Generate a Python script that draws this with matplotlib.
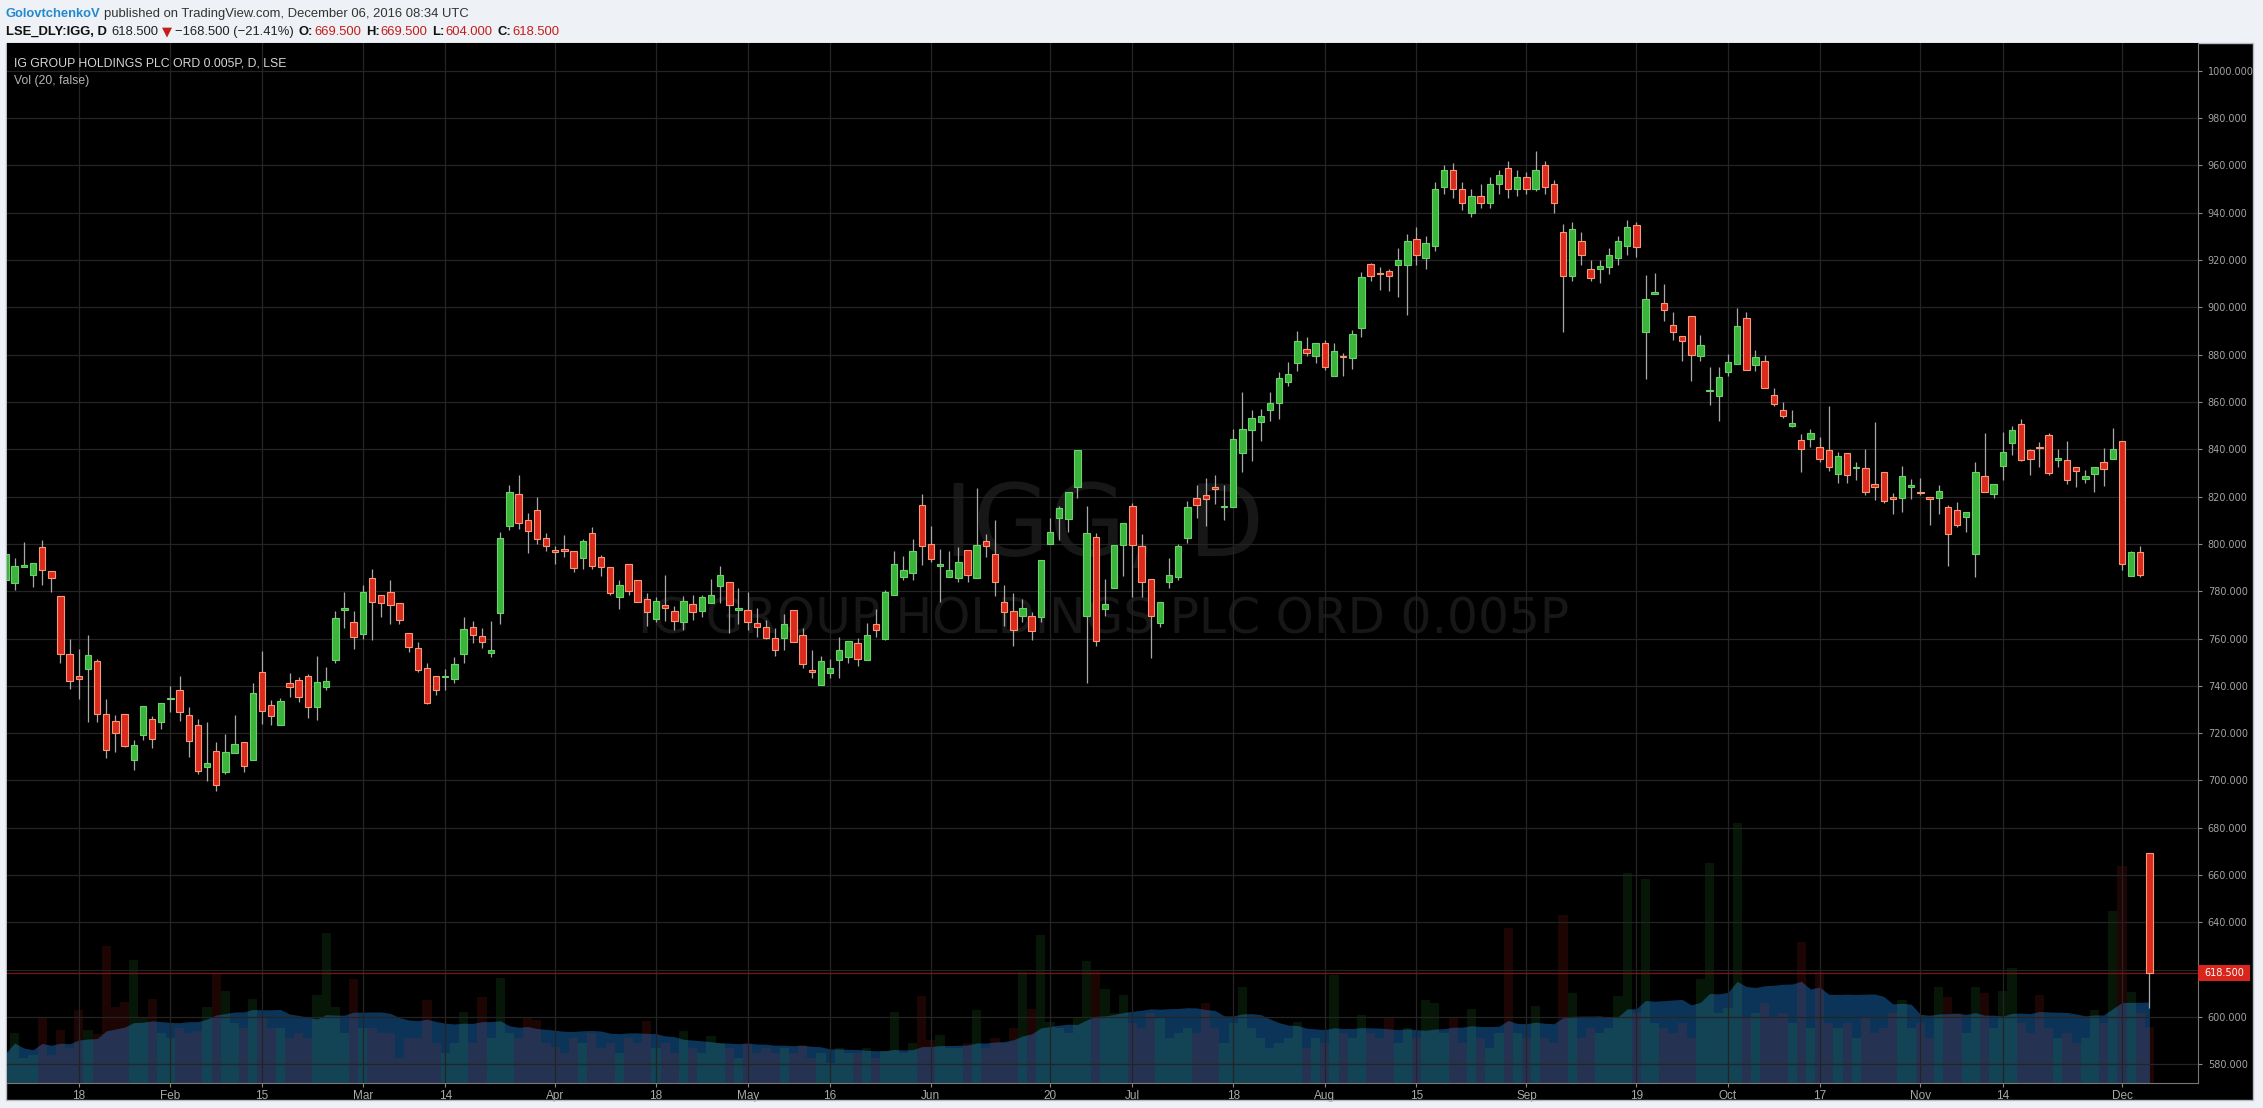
import numpy as np
import pandas as pd
import matplotlib
matplotlib.use('Agg')
import matplotlib.pyplot as plt
from matplotlib.patches import Rectangle
from matplotlib.transforms import blended_transform_factory

# LSE trading days shown on the chart (6 Jan 2016 - 6 Dec 2016)
holidays = ['2016-03-25', '2016-03-28', '2016-05-02', '2016-05-30', '2016-08-29']
days = pd.bdate_range('2016-01-06', '2016-12-06')
days = days[~days.isin(pd.to_datetime(holidays))]

opens = [784.6, 783.5, 790.3, 786.7, 798.7, 788.6, 778.0, 753.5, 744.1, 747.3,
         750.4, 728.0, 725.0, 728.0, 708.5, 719.4, 725.8, 724.9, 734.5, 738.1,
         727.5, 723.3, 705.8, 712.3, 703.7, 711.7, 716.1, 708.5, 745.8, 731.8,
         723.6, 741.1, 742.4, 744.1, 730.9, 739.4, 751.1, 772.2, 767.0, 762.1,
         785.6, 778.2, 779.7, 775.0, 762.3, 755.9, 747.5, 744.1, 743.8, 742.7,
         753.4, 764.8, 761.0, 753.8, 771.0, 807.5, 821.0, 810.3, 814.5, 802.4,
         797.3, 797.7, 796.9, 794.2, 804.5, 794.5, 790.1, 777.7, 791.4, 784.6,
         776.6, 768.4, 774.1, 771.5, 766.9, 774.5, 771.8, 774.9, 782.0, 783.8,
         772.2, 772.0, 766.5, 764.8, 760.1, 760.1, 772.0, 761.4, 746.6, 740.3,
         745.6, 751.0, 752.4, 758.0, 750.8, 766.1, 760.0, 778.3, 786.2, 787.5,
         816.3, 799.9, 790.8, 785.8, 785.4, 797.3, 785.4, 801.1, 795.6, 775.4,
         771.7, 769.7, 769.4, 768.9, 800.1, 811.1, 810.4, 824.2, 769.4, 803.0,
         772.5, 781.4, 799.6, 816.0, 799.0, 785.2, 766.5, 783.8, 786.0, 802.5,
         819.4, 820.8, 824.0, 815.5, 815.7, 838.6, 848.3, 851.6, 856.6, 859.6,
         868.5, 876.6, 882.2, 879.5, 884.7, 871.0, 879.5, 878.7, 891.4, 918.2,
         914.5, 915.3, 917.7, 918.0, 929.0, 921.0, 926.0, 951.0, 958.0, 950.0,
         940.0, 947.0, 944.0, 952.0, 959.0, 950.0, 955.0, 950.0, 960.0, 952.0,
         932.0, 913.1, 928.0, 916.0, 916.0, 917.0, 921.0, 926.0, 934.6, 889.7,
         905.8, 902.0, 892.7, 888.0, 896.5, 879.5, 864.5, 862.5, 872.6, 876.2,
         895.6, 875.6, 877.4, 863.0, 856.7, 849.9, 844.0, 844.4, 841.0, 839.8,
         829.6, 838.5, 831.9, 832.1, 825.4, 830.5, 819.9, 819.4, 824.1, 822.0,
         819.9, 819.4, 815.6, 814.3, 811.4, 795.7, 828.8, 821.1, 832.8, 842.7,
         850.8, 839.8, 841.0, 846.1, 835.4, 835.4, 832.6, 827.5, 829.6, 834.7,
         835.9, 843.6, 786.4, 796.6, 669.5]
highs = [797.0, 794.1, 800.6, 792.0, 801.8, 788.6, 778.0, 759.7, 755.5, 761.6,
         751.3, 734.5, 727.7, 728.0, 717.1, 731.4, 727.3, 732.6, 740.0, 744.2,
         730.9, 726.0, 724.7, 716.1, 719.6, 727.7, 716.1, 741.2, 754.8, 734.0,
         734.7, 745.5, 743.8, 744.9, 752.7, 748.0, 771.8, 779.8, 771.8, 782.8,
         789.5, 778.2, 784.9, 775.0, 762.3, 758.5, 749.6, 744.1, 747.0, 752.1,
         769.2, 767.4, 764.4, 767.4, 805.1, 825.0, 829.0, 813.0, 820.0, 804.5,
         799.3, 803.8, 796.9, 802.1, 807.2, 795.4, 790.1, 784.8, 791.4, 784.6,
         779.2, 777.5, 786.9, 773.8, 778.0, 778.4, 778.4, 785.2, 790.7, 783.8,
         781.3, 779.7, 772.8, 767.9, 764.4, 770.4, 772.0, 764.4, 755.2, 752.5,
         751.3, 760.7, 758.9, 760.1, 766.5, 772.5, 780.6, 797.0, 794.9, 802.1,
         821.1, 807.6, 797.7, 797.0, 798.7, 797.3, 823.5, 804.2, 810.1, 782.7,
         779.4, 776.8, 771.1, 793.1, 811.1, 816.1, 821.8, 839.7, 816.2, 804.7,
         785.2, 799.6, 808.9, 817.4, 804.0, 785.2, 775.4, 794.1, 800.0, 818.1,
         825.0, 828.0, 829.0, 824.7, 848.4, 864.4, 856.5, 857.2, 864.0, 872.5,
         876.7, 890.0, 887.3, 884.7, 886.0, 884.7, 880.6, 890.4, 914.8, 918.8,
         917.1, 916.0, 925.0, 931.0, 934.0, 930.0, 953.0, 960.0, 961.0, 953.0,
         950.0, 952.0, 955.0, 958.0, 962.0, 958.0, 957.0, 966.0, 962.0, 954.0,
         935.0, 936.0, 932.0, 920.0, 920.0, 925.0, 930.0, 937.0, 936.0, 913.6,
         914.4, 909.8, 898.2, 888.0, 896.5, 888.2, 874.6, 874.6, 880.1, 899.6,
         898.2, 881.8, 880.0, 866.0, 860.1, 856.8, 846.5, 848.4, 845.0, 858.2,
         838.8, 838.5, 834.5, 839.9, 851.7, 830.5, 821.5, 832.8, 827.5, 828.0,
         819.9, 825.1, 816.6, 817.7, 813.3, 834.5, 847.0, 825.4, 847.4, 850.0,
         852.6, 840.2, 843.0, 847.0, 840.2, 843.4, 832.6, 831.2, 832.6, 840.6,
         849.1, 843.6, 797.0, 799.2, 669.5]
lows = [783.0, 780.4, 790.3, 781.6, 782.8, 779.5, 749.6, 738.8, 734.5, 724.9,
        724.9, 709.6, 712.1, 714.3, 704.4, 717.1, 713.8, 721.8, 729.0, 725.3,
        710.0, 702.7, 699.9, 695.6, 702.7, 711.7, 703.7, 708.5, 724.0, 723.6,
        723.6, 735.2, 733.0, 726.6, 725.4, 738.3, 749.6, 764.3, 755.4, 759.6,
        759.2, 769.3, 766.0, 766.0, 754.1, 746.0, 732.3, 736.2, 738.3, 741.4,
        749.6, 758.3, 756.2, 752.4, 766.0, 806.0, 806.5, 796.2, 800.0, 796.8,
        791.7, 794.6, 788.2, 789.6, 789.6, 786.6, 778.2, 772.4, 778.6, 775.6,
        765.1, 766.8, 767.6, 763.4, 763.4, 767.9, 769.3, 774.9, 774.9, 762.5,
        766.2, 763.4, 760.8, 759.7, 752.7, 755.2, 758.4, 747.5, 743.2, 740.3,
        743.2, 743.2, 749.6, 748.2, 750.8, 760.6, 759.3, 778.3, 784.8, 784.9,
        791.1, 792.5, 775.6, 785.8, 783.7, 783.7, 785.4, 794.4, 778.0, 765.1,
        756.9, 767.2, 759.4, 766.8, 800.1, 801.7, 805.2, 819.6, 741.4, 757.0,
        769.4, 781.4, 786.3, 777.5, 777.5, 751.7, 764.7, 781.4, 784.6, 800.4,
        810.9, 807.5, 816.7, 810.3, 815.7, 830.5, 835.0, 843.5, 852.0, 852.7,
        866.8, 873.2, 879.5, 876.4, 873.6, 871.0, 871.0, 873.9, 887.6, 910.9,
        907.5, 906.9, 904.5, 896.9, 918.0, 916.0, 924.0, 948.0, 946.0, 941.0,
        938.0, 942.0, 942.0, 948.0, 946.0, 947.0, 948.0, 949.0, 948.0, 940.0,
        889.7, 911.0, 918.0, 910.9, 910.2, 914.0, 918.0, 922.0, 921.3, 869.7,
        905.8, 894.2, 886.2, 877.3, 868.8, 877.3, 858.7, 851.9, 870.9, 876.2,
        873.6, 873.1, 866.0, 858.2, 853.2, 849.5, 830.3, 840.9, 834.5, 830.7,
        825.8, 825.8, 826.9, 820.8, 818.7, 817.3, 812.5, 813.4, 819.0, 820.7,
        808.0, 812.5, 790.5, 807.1, 805.0, 785.8, 822.0, 819.3, 826.9, 837.5,
        835.0, 829.2, 832.5, 829.2, 832.4, 825.4, 824.1, 825.8, 822.0, 824.4,
        835.9, 789.1, 786.4, 785.8, 604.0]
closes = [795.9, 790.7, 791.0, 791.9, 788.8, 785.5, 753.3, 742.2, 742.8, 753.0,
          728.0, 712.7, 720.2, 714.7, 714.8, 731.4, 717.4, 732.6, 734.8, 729.1,
          716.8, 704.1, 707.2, 698.2, 711.9, 715.3, 706.2, 736.9, 729.2, 727.4,
          733.5, 739.4, 735.5, 730.9, 741.5, 742.0, 768.6, 773.0, 760.6, 779.7,
          775.4, 774.9, 774.0, 767.8, 756.6, 746.5, 732.6, 738.1, 744.3, 749.2,
          764.0, 761.4, 758.5, 755.1, 802.5, 822.0, 808.8, 805.4, 802.1, 799.3,
          796.5, 796.9, 790.0, 801.1, 790.8, 790.4, 779.4, 782.7, 780.0, 775.6,
          771.4, 775.8, 772.8, 767.6, 775.8, 771.1, 777.5, 778.3, 786.8, 774.1,
          772.6, 766.9, 764.8, 760.1, 755.2, 766.1, 758.4, 749.2, 745.8, 750.4,
          747.5, 755.2, 758.9, 751.3, 761.4, 763.4, 779.7, 791.4, 788.9, 796.9,
          799.0, 793.5, 791.2, 788.9, 792.3, 786.8, 799.4, 799.0, 783.7, 771.4,
          763.8, 773.0, 763.1, 793.1, 804.9, 815.1, 821.8, 839.7, 804.7, 758.8,
          774.6, 799.6, 808.9, 799.6, 783.9, 769.6, 775.4, 786.9, 799.3, 815.7,
          816.5, 818.8, 823.3, 815.9, 844.5, 848.7, 853.0, 854.0, 859.7, 870.3,
          872.0, 885.6, 880.5, 884.7, 874.6, 881.4, 879.0, 888.6, 912.7, 913.1,
          914.0, 913.1, 920.1, 928.0, 922.0, 927.0, 950.0, 958.0, 950.0, 944.0,
          947.0, 944.0, 952.0, 956.0, 950.0, 955.0, 950.0, 958.0, 951.0, 944.0,
          913.1, 933.0, 922.0, 912.3, 917.4, 922.0, 928.0, 934.0, 925.6, 903.3,
          906.6, 899.0, 889.7, 885.9, 880.0, 884.2, 864.9, 870.7, 877.0, 892.3,
          873.6, 879.1, 866.0, 859.2, 854.1, 851.2, 840.2, 846.9, 835.9, 832.5,
          837.2, 829.2, 832.3, 822.0, 824.1, 818.2, 819.0, 828.8, 825.0, 821.3,
          819.0, 822.5, 804.2, 808.0, 813.3, 830.5, 822.0, 825.4, 838.9, 848.2,
          835.4, 835.9, 840.5, 830.1, 836.1, 827.0, 830.9, 828.8, 832.6, 831.7,
          840.2, 791.5, 796.6, 787.0, 618.5]
# daily volume, thousands of shares
volume = [750, 1250, 625, 700, 1625, 700, 1325, 875, 1825, 1325,
          1225, 3425, 1900, 2025, 3075, 1650, 2100, 1250, 1125, 1375,
          1250, 1300, 1900, 2750, 2300, 1500, 1375, 2100, 1625, 1375,
          1375, 1125, 1250, 1125, 2200, 3750, 1900, 1250, 2600, 1375,
          1375, 1250, 1250, 625, 1125, 1125, 2075, 1000, 750, 1000,
          1775, 1000, 2150, 1125, 2625, 1250, 1125, 1650, 1575, 1000,
          900, 750, 1125, 1000, 1250, 875, 1000, 750, 1125, 1000,
          1550, 875, 1000, 750, 1300, 875, 750, 1175, 1000, 875,
          625, 1000, 750, 875, 750, 875, 750, 950, 625, 750,
          500, 875, 750, 750, 875, 625, 800, 1775, 750, 1000,
          2175, 1075, 1200, 875, 875, 1000, 1825, 875, 1125, 1000,
          1375, 2775, 1850, 3700, 1525, 1375, 1250, 1625, 3050, 2825,
          2350, 1750, 2200, 1500, 1375, 1750, 1625, 1125, 1250, 1375,
          1250, 2000, 1375, 1000, 1500, 2400, 1375, 1125, 875, 1000,
          1125, 1525, 875, 1125, 1000, 2700, 1250, 1125, 1700, 1250,
          1125, 1625, 1000, 1375, 1125, 2075, 2000, 1250, 1650, 1000,
          1850, 1125, 875, 1250, 3875, 1250, 1125, 1925, 1125, 1000,
          4200, 2250, 1125, 1375, 1250, 1375, 2175, 5250, 1750, 5100,
          1500, 1375, 1250, 1500, 1125, 2600, 5500, 1750, 1875, 6500,
          1625, 1750, 2000, 1625, 1750, 1500, 3525, 1375, 2775, 1500,
          1375, 1500, 1125, 1625, 1250, 1375, 1750, 2075, 1375, 1500,
          1125, 2400, 2150, 1750, 1250, 2400, 2250, 1375, 2300, 2875,
          1500, 1250, 2200, 1375, 1125, 1250, 1000, 1125, 1825, 1500,
          4300, 5425, 2275, 1750, 1400]

tick_dates = ['2016-01-18', '2016-02-01', '2016-02-15', '2016-03-01', '2016-03-14',
              '2016-04-01', '2016-04-18', '2016-05-03', '2016-05-16', '2016-06-01',
              '2016-06-20', '2016-07-01', '2016-07-18', '2016-08-01', '2016-08-15',
              '2016-09-01', '2016-09-19', '2016-10-03', '2016-10-17', '2016-11-01',
              '2016-11-14', '2016-12-01']
tick_labels = ['18', 'Feb', '15', 'Mar', '14', 'Apr', '18', 'May', '16', 'Jun', '20',
               'Jul', '18', 'Aug', '15', 'Sep', '19', 'Oct', '17', 'Nov', '14', 'Dec']
price_ticks = list(range(580, 1001, 20))
last_price = 618.5

NARROW = ['Liberation Sans Narrow', 'Liberation Sans', 'DejaVu Sans']
UP, UP_EDGE = '#3bb43b', '#6ad26a'
DOWN, DOWN_EDGE = '#da2a1e', '#f59a74'
W, H = 2263, 1108

o = np.array(opens); h = np.array(highs); l = np.array(lows); c = np.array(closes)
vol = np.array(volume, dtype=float)
x = np.arange(len(days))
up = c >= o
vol_ma = pd.Series(vol).rolling(20, min_periods=1).mean()

fig = plt.figure(figsize=(W / 100, H / 100), dpi=100)
fig.patch.set_facecolor('#eef1f5')
renderer = fig.canvas.get_renderer()

def fx(px):
    return px / W

def fy(py):
    return 1 - py / H

# black chart frame (plot + axis strips)
fig.add_artist(Rectangle((fx(6), fy(1100)), fx(2253) - fx(6), fy(43) - fy(1100),
                         transform=fig.transFigure, facecolor='black',
                         edgecolor='#b8bcc2', linewidth=1, zorder=0))

rect = [fx(6.5), fy(1083), fx(2198) - fx(6.5), fy(43) - fy(1083)]
axv = fig.add_axes(rect)
ax = fig.add_axes(rect, sharex=axv)
ax.patch.set_visible(False)
axv.set_facecolor('black')

# volume + 20 day average (bottom layer)
axv.fill_between(x, 0, vol_ma, color='#0c3459', linewidth=0, zorder=1)
axv.bar(x, vol, width=1.0, color=np.where(up, UP, DOWN), alpha=0.13, linewidth=0, zorder=2)
axv.set_ylim(0, 26000)
axv.set_yticks([])
for s in axv.spines.values():
    s.set_visible(False)
axv.tick_params(axis='x', which='both', bottom=False, labelbottom=False)

# faint symbol watermark
wm = dict(transform=fig.transFigure, ha='center', va='center', color='#171717',
          family='DejaVu Sans', zorder=0.5)
axv.text(fx(1104), fy(529), 'IGG, D', fontsize=71, **wm)
axv.text(fx(1104), fy(619), 'IG GROUP HOLDINGS PLC ORD 0.005P', fontsize=35, **wm)

# candles
ax.vlines(x, l, h, color='#a8a8a8', linewidth=0.9, zorder=2)
body_lo = np.minimum(o, c)
body_h = np.maximum(np.abs(c - o), 0.5)
ax.bar(x, body_h, bottom=body_lo, width=0.7, color=np.where(up, UP, DOWN),
       edgecolor=np.where(up, UP_EDGE, DOWN_EDGE), linewidth=0.8, zorder=3)

ax.axhline(last_price, color='#7d1414', linewidth=0.9, zorder=1.5)

ax.set_xlim(0.11, 239.3)
ax.set_ylim(572.15, 1011.7)
ax.grid(True, color='#242424', linewidth=0.9, zorder=0)
ax.set_axisbelow(True)

tick_pos = days.get_indexer(pd.to_datetime(tick_dates))
ax.set_xticks(tick_pos)
ax.set_xticklabels(tick_labels, family=NARROW, fontsize=8.5, color='#a9a9a9')
ax.yaxis.tick_right()
ax.set_yticks(price_ticks)
ax.set_yticklabels(['' if p == 620 else '%.3f' % p for p in price_ticks],
                   family='DejaVu Sans', fontsize=7, color='#a3a3a3')
ax.tick_params(axis='x', length=3, color='#8a8a8a', pad=2)
ax.tick_params(axis='y', length=3, color='#8a8a8a', pad=4)
for side in ['top', 'left']:
    ax.spines[side].set_visible(False)
ax.spines['right'].set_color('#777777')
ax.spines['bottom'].set_color('#777777')

# last price marker on the scale
tr = blended_transform_factory(ax.transAxes, ax.transData)
ax.add_patch(Rectangle((1.0, last_price - 3.4), 52 / 2191.5, 6.8, transform=tr,
                       facecolor='#d8261c', edgecolor='none', clip_on=False, zorder=5))
ax.text(1.0 + 6 / 2191.5, last_price, '%.3f' % last_price, transform=tr, ha='left',
        va='center', color='white', fontsize=7, family='DejaVu Sans', zorder=6)

# legend inside the chart
fig.text(fx(14), fy(66), 'IG GROUP HOLDINGS PLC ORD 0.005P, D, LSE', color='#d6d6d6',
         fontsize=8.8, family=NARROW, va='baseline')
fig.text(fx(14), fy(84), 'Vol (20, false)', color='#b4b4b4', fontsize=8.8,
         family=NARROW, va='baseline')

# header: size chosen so the first line spans the same width as the original
probe = fig.text(0, 0, 'GolovtchenkoV published on TradingView.com, December 06, 2016 08:34 UTC',
                 fontsize=10, family=NARROW)
hsize = 10 * 456 / probe.get_window_extent(renderer).width
probe.remove()

def text_run(x_px, y_px, parts):
    for s, col, wt, fam, gap in parts:
        t = fig.text(fx(x_px), fy(y_px), s, color=col, fontweight=wt, fontsize=hsize,
                     family=fam, va='baseline')
        x_px += t.get_window_extent(renderer).width + gap

RED = '#c41e1a'
DARK = '#222222'
text_run(6, 17, [
    ('GolovtchenkoV', '#2389cf', 'bold', NARROW, 3),
    ('published on TradingView.com, December 06, 2016 08:34 UTC', '#333333', 'normal', NARROW, 0),
])
text_run(6, 35, [
    ('LSE_DLY:IGG, D', '#111111', 'bold', NARROW, 4),
    ('618.500', DARK, 'normal', NARROW, 4),
    ('\u25bc', RED, 'normal', ['DejaVu Sans'], 3),
    ('\u2212168.500 (\u221221.41%)', DARK, 'normal', NARROW, 5),
    ('O:', '#111111', 'bold', NARROW, 1),
    ('669.500', RED, 'normal', NARROW, 5),
    ('H:', '#111111', 'bold', NARROW, 1),
    ('669.500', RED, 'normal', NARROW, 5),
    ('L:', '#111111', 'bold', NARROW, 1),
    ('604.000', RED, 'normal', NARROW, 5),
    ('C:', '#111111', 'bold', NARROW, 1),
    ('618.500', RED, 'normal', NARROW, 0),
])

fig.savefig('out.png', dpi=100, facecolor=fig.get_facecolor())
